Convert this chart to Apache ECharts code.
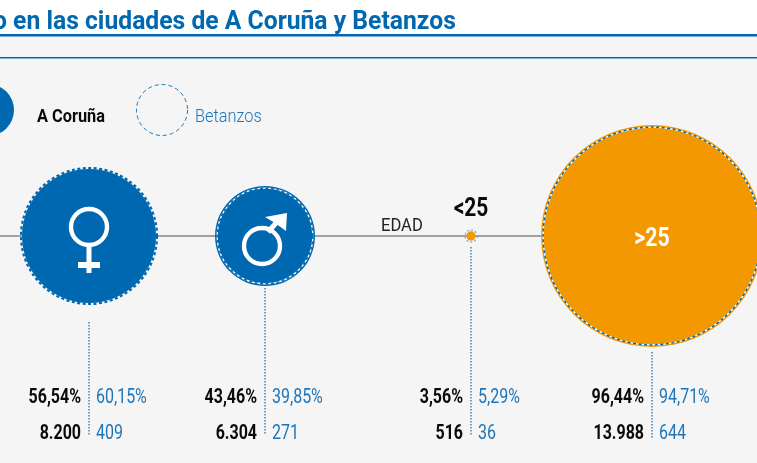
<!DOCTYPE html>
<html>

<head>
    <meta charset="utf-8">
    <script src="https://cdn.jsdelivr.net/npm/echarts@6/dist/echarts.min.js"></script>
</head>
<style type="text/css">
    html, body { margin: 0; padding: 0; background: #f5f5f5; }
    #chart { width: 757px; height: 463px; }
</style>

<body>
    <div id="chart"></div>
</body>

</html>

<script type="text/javascript">
    const categories = ['Mujeres', 'Hombres', '<25', '>25']
    const corunaPct = [56.54, 43.46, 3.56, 96.44]
    const betanzosPct = [60.15, 39.85, 5.29, 94.71]
    const corunaNum = [8200, 6304, 516, 13988]
    const betanzosNum = [409, 271, 36, 644]

    // layout, x and y live on hidden 757x463 axes
    const centerX = [89, 265, 471, 652]
    const centerY = 236
    const leaderTop = [322, 288, 247, 352]
    const leaderEnd = [436, 434, 436, 438]
    const rowPct = 398
    const rowNum = 434
    // the original is not quite to scale, diameter per percent point
    const corunaScale = [2.37, 2.3, 2.6, 2.3]
    const betanzosScale = [2.26, 2.4, 2.3, 2.3]

    const BLUE = '#0068b0'
    const TEXT_BLUE = '#1d75b8'
    const ORANGE = '#f39800'
    const FONT = 'Roboto'

    const pctText = v => v.toFixed(2).replace('.', ',') + '%'
    const numText = v => String(v).replace(/\B(?=(\d{3})+$)/g, '.')

    const markColor = i => (i < 2 ? BLUE : ORANGE)
    const sizeFn = scale => (val, p) => val[2] * scale[p.dataIndex]

    // every text that sits on the chart: [x, y, text, align, size, weight, color, scaleX]
    let labels = []
    categories.forEach((c, i) => {
        labels.push([centerX[i] - 8, rowPct, pctText(corunaPct[i]), 'right', 20, 'bold', '#0a0a0a', 0.8])
        labels.push([centerX[i] + 7, rowPct, pctText(betanzosPct[i]), 'left', 20, 'normal', TEXT_BLUE, 0.8])
        labels.push([centerX[i] - 8, rowNum, numText(corunaNum[i]), 'right', 20, 'bold', '#0a0a0a', 0.8])
        labels.push([centerX[i] + 7, rowNum, numText(betanzosNum[i]), 'left', 20, 'normal', TEXT_BLUE, 0.8])
    })
    labels.push([381, 226, 'EDAD', 'left', 18, 'normal', '#222', 0.92])
    labels.push([471, 210, categories[2], 'center', 25.5, 'bold', '#0a0a0a', 0.82])
    labels.push([652, 239, categories[3], 'center', 26, 'bold', '#fff', 0.82])

    let leaders = []
    categories.forEach((c, i) => {
        leaders.push([centerX[i], leaderTop[i]], [centerX[i], leaderEnd[i]], null)
    })

    function ring(cx, cy) {
        return { type: 'circle', shape: { cx: cx, cy: cy, r: 18 }, style: { fill: 'none', stroke: '#fff', lineWidth: 4.4 } }
    }

    function femaleIcon(x, y) {
        return {
            type: 'group',
            children: [
                ring(x, y - 9),
                { type: 'rect', shape: { x: x - 2.5, y: y + 10, width: 5, height: 27 }, style: { fill: '#fff' } },
                { type: 'rect', shape: { x: x - 11, y: y + 26, width: 22, height: 6 }, style: { fill: '#fff' } }
            ]
        }
    }

    function maleIcon(x, y) {
        return {
            type: 'group',
            children: [
                ring(x - 3, y + 10),
                { type: 'line', shape: { x1: x + 3, y1: y - 4, x2: x + 12, y2: y - 14 }, style: { stroke: '#fff', lineWidth: 5 } },
                { type: 'polygon', shape: { points: [[x + 22, y - 23], [x, y - 19], [x + 10, y - 13], [x + 21, y - 5]] }, style: { fill: '#fff' } }
            ]
        }
    }

    // white line under the Betanzos dashes, left out where it would only open a gap
    const underStyle = i => ({ borderColor: i === 1 || i === 3 ? '#fff' : 'transparent' })
    const dashStyle = i => (i === 2
        ? { borderColor: '#7fa6c6', borderWidth: 1.2, borderType: [2, 2] }
        : { borderColor: BLUE, borderWidth: i === 0 ? 2.2 : 1.5, borderType: [3, 2.5] })

    const myChart = echarts.init(document.getElementById('chart'))

    const option = {
        animation: false,
        backgroundColor: '#f5f5f5',
        grid: { left: 0, right: 0, top: 0, bottom: 0 },
        xAxis: { type: 'value', min: 0, max: 757, show: false },
        yAxis: { type: 'value', min: 0, max: 463, inverse: true, show: false },
        graphic: [
            { type: 'rect', z: 1, shape: { x: 0, y: 0, width: 757, height: 35 }, style: { fill: '#fff' } },
            { type: 'rect', z: 2, shape: { x: 0, y: 34, width: 757, height: 2.4 }, style: { fill: BLUE } },
            { type: 'rect', z: 2, shape: { x: 0, y: 57, width: 757, height: 1.6 }, style: { fill: BLUE } },
            {
                type: 'text', z: 3, x: -7, y: 22, scaleX: 0.95,
                style: { text: 'o en las ciudades de A Coruña y Betanzos', font: 'bold 26px ' + FONT, fill: BLUE, verticalAlign: 'middle' }
            },
            { type: 'circle', z: 3, shape: { cx: -12, cy: 110, r: 26 }, style: { fill: BLUE } },
            {
                type: 'text', z: 3, x: 37, y: 117, scaleX: 0.86,
                style: { text: 'A Coruña', font: 'bold 19px ' + FONT, fill: '#0a0a0a', verticalAlign: 'middle' }
            },
            {
                type: 'circle', z: 3, shape: { cx: 162, cy: 110, r: 25.5 },
                style: { fill: 'none', stroke: TEXT_BLUE, lineWidth: 1, lineDash: [4, 3] }
            },
            {
                type: 'text', z: 3, x: 195, y: 117, scaleX: 0.86,
                style: { text: 'Betanzos', font: '300 19px ' + FONT, fill: TEXT_BLUE, verticalAlign: 'middle' }
            }
        ],
        series: [
            {
                type: 'line', z: 1, silent: true, symbol: 'none',
                lineStyle: { color: '#858585', width: 1.4 },
                data: [[0, centerY], [757, centerY]]
            },
            {
                type: 'line', z: 1, silent: true, symbol: 'none', connectNulls: false,
                lineStyle: { color: '#2a7fc4', width: 1.4, type: [1.5, 1.5] },
                data: leaders
            },
            {
                // A Coruna, solid
                type: 'scatter', z: 2, silent: true, symbolSize: sizeFn(corunaScale),
                itemStyle: { opacity: 1, color: p => markColor(p.dataIndex) },
                data: corunaPct.map((v, i) => [centerX[i], centerY, v])
            },
            {
                type: 'scatter', z: 3, silent: true, symbolSize: sizeFn(betanzosScale),
                itemStyle: { opacity: 1, color: 'transparent', borderWidth: 1.3 },
                data: betanzosPct.map((v, i) => ({ value: [centerX[i], centerY, v], itemStyle: underStyle(i) }))
            },
            {
                type: 'scatter', z: 4, silent: true, symbolSize: sizeFn(betanzosScale),
                itemStyle: { opacity: 1, color: 'transparent' },
                data: betanzosPct.map((v, i) => ({ value: [centerX[i], centerY, v], itemStyle: dashStyle(i) }))
            },
            {
                type: 'custom', z: 5, silent: true,
                data: [[centerX[0], centerY], [centerX[1], centerY]],
                renderItem: function (params, api) {
                    const p = api.coord([api.value(0), api.value(1)])
                    return params.dataIndex === 0 ? femaleIcon(p[0], p[1]) : maleIcon(p[0], p[1])
                }
            },
            {
                type: 'custom', z: 6, silent: true,
                data: labels.map(l => [l[0], l[1]]),
                renderItem: function (params, api) {
                    const l = labels[params.dataIndex]
                    const p = api.coord([l[0], l[1]])
                    return {
                        type: 'text', x: p[0], y: p[1], scaleX: l[7],
                        style: {
                            text: l[2], textAlign: l[3], textVerticalAlign: 'middle',
                            font: l[5] + ' ' + l[4] + 'px ' + FONT, fill: l[6]
                        }
                    }
                }
            }
        ]
    }

    myChart.setOption(option)
</script>
